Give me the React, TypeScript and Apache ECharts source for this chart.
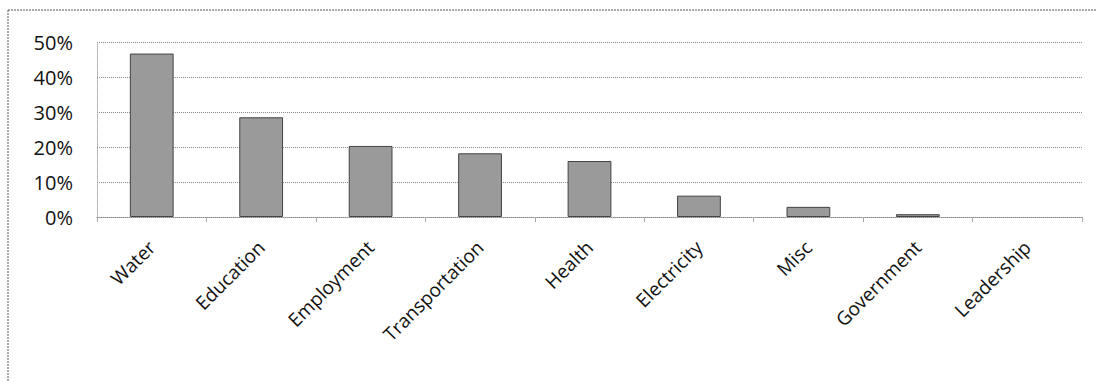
import React, { useEffect, useRef } from "react";
import * as echarts from "echarts";

const categories = ["Water", "Education", "Employment", "Transportation", "Health", "Electricity", "Misc", "Government", "Leadership"];
const values = [46.7, 28.5, 20.3, 18.2, 16.0, 6.1, 2.9, 0.8, 0];
const yTicks = [0, 10, 20, 30, 40, 50];

export default function App() {
  const ref = useRef<HTMLDivElement>(null);
  useEffect(() => {
    if (!ref.current) return;
    const chart = echarts.init(ref.current, null, { renderer: "svg" });
    const font = "'Open Sans', 'Noto Sans', sans-serif";
    chart.setOption({
      animation: false,
      backgroundColor: "#ffffff",
      grid: { left: 97, right: 15, top: 42, bottom: 165 },
      xAxis: {
        type: "category",
        data: categories,
        axisLine: { lineStyle: { color: "#8a8a8a", type: "dotted", width: 1 } },
        axisTick: { show: true, length: 5, lineStyle: { color: "#aaaaaa" } },
        axisLabel: { rotate: 45, margin: 27, fontSize: 19, color: "#111", fontFamily: font, interval: 0 },
      },
      yAxis: {
        type: "value",
        min: 0,
        max: 50,
        interval: 10,
        axisLine: { show: true, lineStyle: { color: "#aaaaaa", type: "dotted", width: 1 } },
        axisTick: { show: false },
        splitLine: { lineStyle: { color: "#8a8a8a", type: "dotted", width: 1 } },
        axisLabel: {
          margin: 24,
          fontSize: 20,
          color: "#111",
          fontFamily: font,
          formatter: (v: number) => (yTicks.includes(v) ? v + "%" : ""),
        },
      },
      series: [
        {
          type: "bar",
          data: values.map((v) => ({ value: v, itemStyle: { borderWidth: v === 0 ? 0 : 1 } })),
          barWidth: "40%",
          itemStyle: { color: "#9a9a9a", borderColor: "#444", borderWidth: 1 },
        },
      ],
      graphic: [
        { type: "line", shape: { x1: 8, y1: 10, x2: 1097, y2: 10 }, style: { stroke: "#555", lineWidth: 1, lineDash: [2, 1] } },
        { type: "line", shape: { x1: 8, y1: 10, x2: 8, y2: 382 }, style: { stroke: "#555", lineWidth: 1, lineDash: [2, 1] } },
      ],
    });
    return () => chart.dispose();
  }, []);
  return <div ref={ref} style={{ width: 1097, height: 382, position: "absolute", left: 0, top: 0 }} />;
}
